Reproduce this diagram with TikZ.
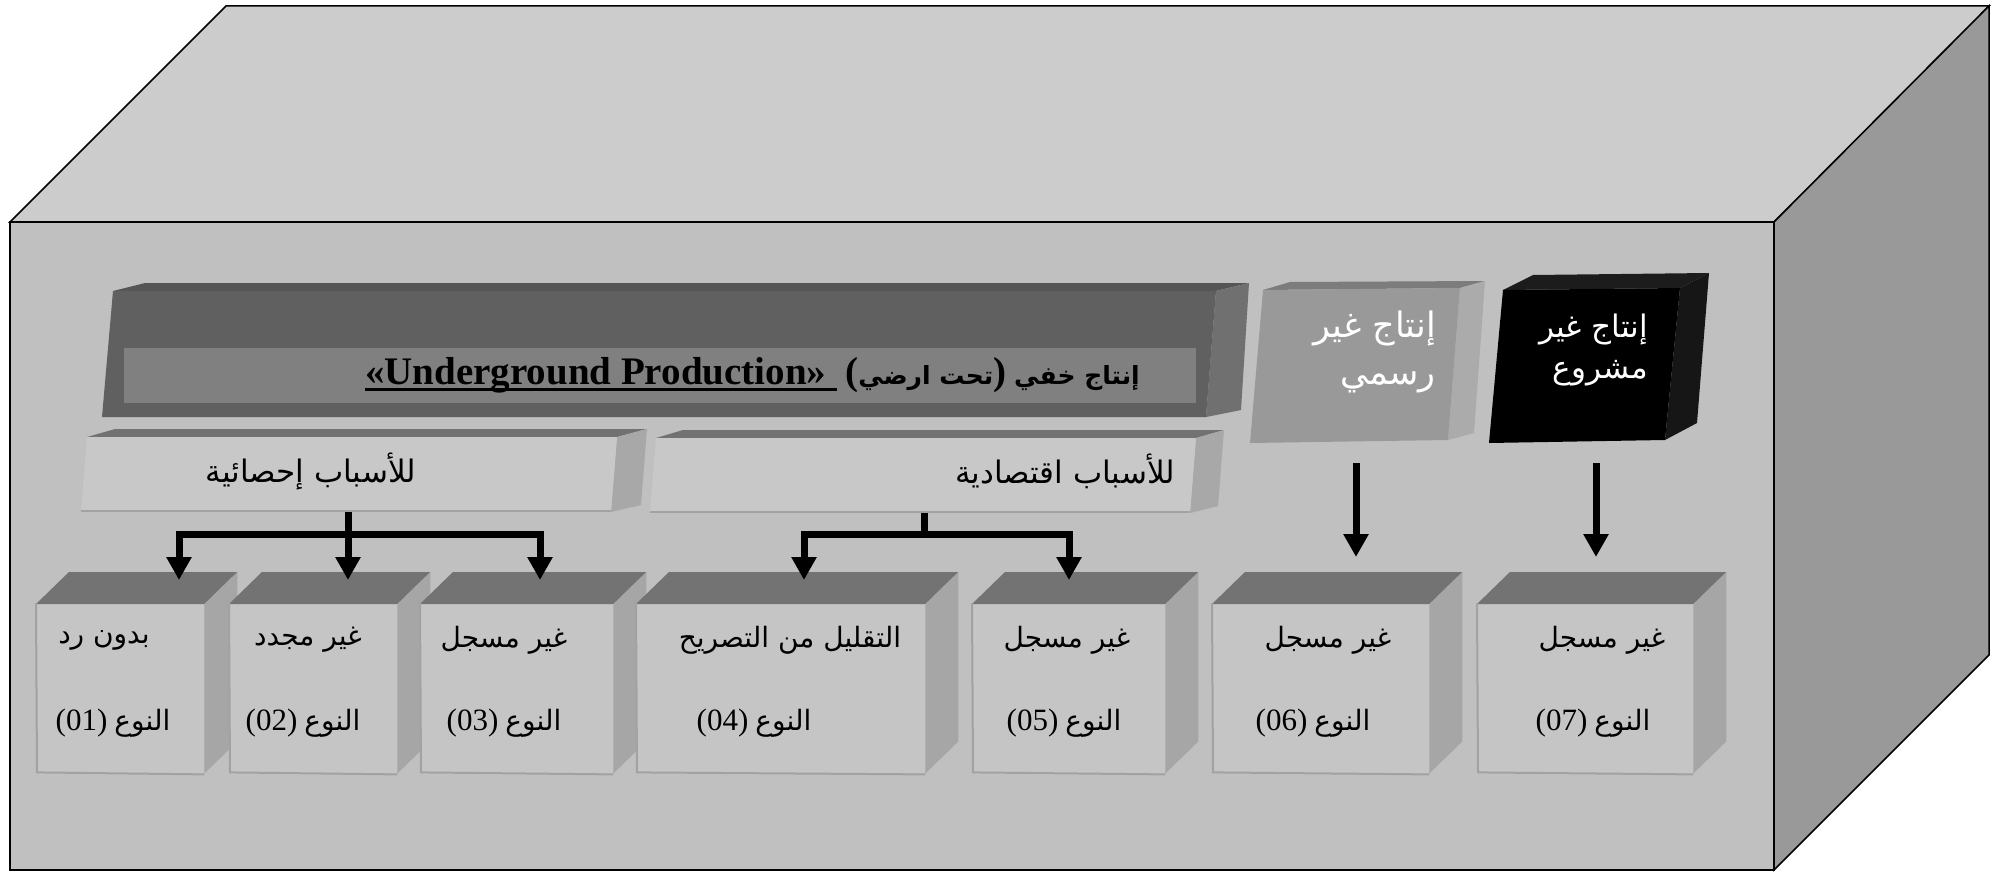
\documentclass[tikz,border=0pt]{standalone}
\usepackage{fontspec}
\setmainfont{Liberation Serif}
\newfontfamily\arabicfont[Script=Arabic]{DejaVu Sans}
\TeXXeTstate=1
\usetikzlibrary{arrows.meta}
\newcommand{\artext}[1]{{\arabicfont\beginR #1\endR}}
\newcommand{\thickul}[1]{\setbox0\hbox{#1}\leavevmode\rlap{\rule[-7pt]{\wd0}{3pt}}\box0}
\definecolor{bigtop}{HTML}{CCCCCC}
\definecolor{bigfront}{HTML}{C0C0C0}
\definecolor{bigside}{HTML}{999999}
\definecolor{darkfront}{HTML}{606060}
\definecolor{darktop}{HTML}{555555}
\definecolor{darkside}{HTML}{707070}
\definecolor{darkinner}{HTML}{808080}
\definecolor{lightfront}{HTML}{C8C8C8}
\definecolor{lighttop}{HTML}{727272}
\definecolor{lightside}{HTML}{A8A8A8}
\definecolor{boxfront}{HTML}{C5C5C5}
\definecolor{boxtop}{HTML}{737373}
\definecolor{boxside}{HTML}{A6A6A6}
\definecolor{boxedge}{HTML}{A2A2A2}
\definecolor{greyfront}{HTML}{999999}
\definecolor{greytop}{HTML}{7C7C7C}
\definecolor{greyside}{HTML}{ABABAB}
\definecolor{blacktop}{HTML}{1C1C1C}
\definecolor{blackside}{HTML}{161616}
\tikzset{
  bigline/.style={draw=black, line width=1.5pt},
  frontface/.style={fill=boxfront, draw=none, inner sep=0pt, minimum height=169pt},
  arr/.style={line width=7pt, -{Triangle[length=23pt,width=24pt]}},
  conn/.style={line width=7pt},
  boxtxt/.style={inner sep=0pt, font=\fontsize{28}{34}\selectfont},
  bartxt/.style={inner sep=0pt, font=\fontsize{31}{36}\selectfont},
  whitetxt/.style={inner sep=0pt, text=white, align=right},
}
\newcommand{\lowbox}[3]{%
  \node[frontface, minimum width=#3-#2, anchor=north west] (#1) at (#2,604) {};
  \fill[boxtop] (#1.north west) -- ++(33,-32) -- ([shift={(33,-32)}]#1.north east) -- (#1.north east) -- cycle;
  \fill[boxside] (#1.north east) -- ++(33,-32) -- ([shift={(33,-32)}]#1.south east) -- (#1.south east) -- cycle;
  \draw[boxedge, line width=2pt] ([yshift=1pt]#1.north west) -- ([shift={(1,-1)}]#1.south west) -- ([yshift=-1pt]#1.south east);
}
\newcommand{\numtxt}[2]{{\fontsize{31}{34}\selectfont(#1)} \artext{#2}}
\begin{document}
\begin{tikzpicture}[x=1pt,y=-1pt]
\useasboundingbox (0,0) rectangle (1995,872);
% main block
\filldraw[fill=bigtop, bigline] (10,222) -- (226,6) -- (1989,6) -- (1774,222) -- cycle;
\filldraw[fill=bigside, bigline] (1774,222) -- (1989,6) -- (1989,655) -- (1774,870) -- cycle;
\filldraw[fill=bigfront, bigline] (10,222) rectangle (1774,870);

% underground bar
\fill[darktop] (113,291) -- (145,283) -- (1249,283) -- (1216,291) -- cycle;
\fill[darkside] (1216,291) -- (1249,283) -- (1241,410) -- (1206,417) -- cycle;
\fill[darkfront] (113,291) -- (1216,291) -- (1206,417) -- (102,417) -- cycle;
\fill[darkinner] (124,348) rectangle (1196,403);
\node[inner sep=0pt, font=\bfseries, anchor=base east] (under) at (1140,384)
  {\fontsize{39}{42}\selectfont\thickul{«Underground Production»\hspace{11pt}}\hspace{8pt}(\artext{\fontsize{25}{34}\selectfont تحت ارضي})\hspace{8pt}\artext{\fontsize{25}{34}\selectfont إنتاج خفي}};

% statistical reasons bar
\fill[lighttop] (87,437) -- (115,429) -- (647,429) -- (617,437) -- cycle;
\fill[lightside] (617,437) -- (647,429) -- (641,505) -- (611,512) -- cycle;
\fill[lightfront] (87,437) -- (617,437) -- (611,512) -- (81,512) -- cycle;
\draw[boxedge, line width=2pt] (81,511) -- (611,511);
\node[bartxt] (stat) at (311,471) {\artext{للأسباب إحصائية}};

% economic reasons bar
\fill[lighttop] (656,438) -- (683,430) -- (1224,430) -- (1196,438) -- cycle;
\fill[lightside] (1196,438) -- (1224,430) -- (1218,506) -- (1190,513) -- cycle;
\fill[lightfront] (656,438) -- (1196,438) -- (1190,513) -- (650,513) -- cycle;
\draw[boxedge, line width=2pt] (650,512) -- (1190,512);
\node[bartxt] (econ) at (1065,471) {\artext{للأسباب اقتصادية}};

% informal production
\fill[greytop] (1263,290) -- (1290,282) -- (1485,281) -- (1460,288) -- cycle;
\fill[greyside] (1460,288) -- (1485,281) -- (1474,433) -- (1448,440) -- cycle;
\fill[greyfront] (1263,290) -- (1460,288) -- (1448,440) -- (1250,443) -- cycle;
\node[whitetxt, anchor=north east, font=\fontsize{35}{47}\selectfont] (informal) at (1436,311) {\artext{إنتاج غير}\\\artext{رسمي}};

% illegal production
\fill[blacktop] (1503,290) -- (1533,275) -- (1709,273) -- (1680,288) -- cycle;
\fill[blackside] (1680,288) -- (1709,273) -- (1697,423) -- (1665,440) -- cycle;
\fill[black] (1503,290) -- (1680,288) -- (1665,440) -- (1489,443) -- cycle;
\node[whitetxt, anchor=north east, font=\fontsize{31}{41}\selectfont] (illegal) at (1648,314) {\artext{إنتاج غير}\\\artext{مشروع}};

% lower boxes
\lowbox{b01}{36}{204}
\lowbox{b02}{229}{397}
\lowbox{b03}{420}{613}
\lowbox{b04}{636}{925}
\lowbox{b05}{972}{1165}
\lowbox{b06}{1212}{1429}
\lowbox{b07}{1477}{1693}

\node[boxtxt] (b01a) at (104,640) {\artext{بدون رد}};
\node[boxtxt] (b01b) at (113,723) {\numtxt{01}{النوع}};
\node[boxtxt] (b02a) at (308,640) {\artext{غير مجدد}};
\node[boxtxt] (b02b) at (303,723) {\numtxt{02}{النوع}};
\node[boxtxt] (b03a) at (504,640) {\artext{غير مسجل}};
\node[boxtxt] (b03b) at (504,723) {\numtxt{03}{النوع}};
\node[boxtxt] (b04a) at (790,640) {\artext{التقليل من التصريح}};
\node[boxtxt] (b04b) at (754,723) {\numtxt{04}{النوع}};
\node[boxtxt] (b05a) at (1067,640) {\artext{غير مسجل}};
\node[boxtxt] (b05b) at (1064,723) {\numtxt{05}{النوع}};
\node[boxtxt] (b06a) at (1328,640) {\artext{غير مسجل}};
\node[boxtxt] (b06b) at (1313,723) {\numtxt{06}{النوع}};
\node[boxtxt] (b07a) at (1602,640) {\artext{غير مسجل}};
\node[boxtxt] (b07b) at (1593,723) {\numtxt{07}{النوع}};

% connectors
\coordinate (s1) at (348,512);
\coordinate (j1) at (348,534);
\coordinate (tip01) at (179,580);
\coordinate (tip02) at (348,580);
\coordinate (tip03) at (540,580);
\draw[arr] (j1) -| (tip01);
\draw[arr] (j1) -| (tip03);
\draw[arr] (s1) -- (tip02);

\coordinate (s2) at (924,513);
\coordinate (j2) at (924,534);
\coordinate (tip04) at (804,580);
\coordinate (tip05) at (1069,580);
\draw[conn] (s2) -- (j2);
\draw[arr] (j2) -| (tip04);
\draw[arr] (j2) -| (tip05);

\coordinate (s6) at (1356,463);
\coordinate (tip06) at (1356,557);
\draw[arr] (s6) -- (tip06);
\coordinate (s7) at (1596,463);
\coordinate (tip07) at (1596,557);
\draw[arr] (s7) -- (tip07);
\end{tikzpicture}
\end{document}
